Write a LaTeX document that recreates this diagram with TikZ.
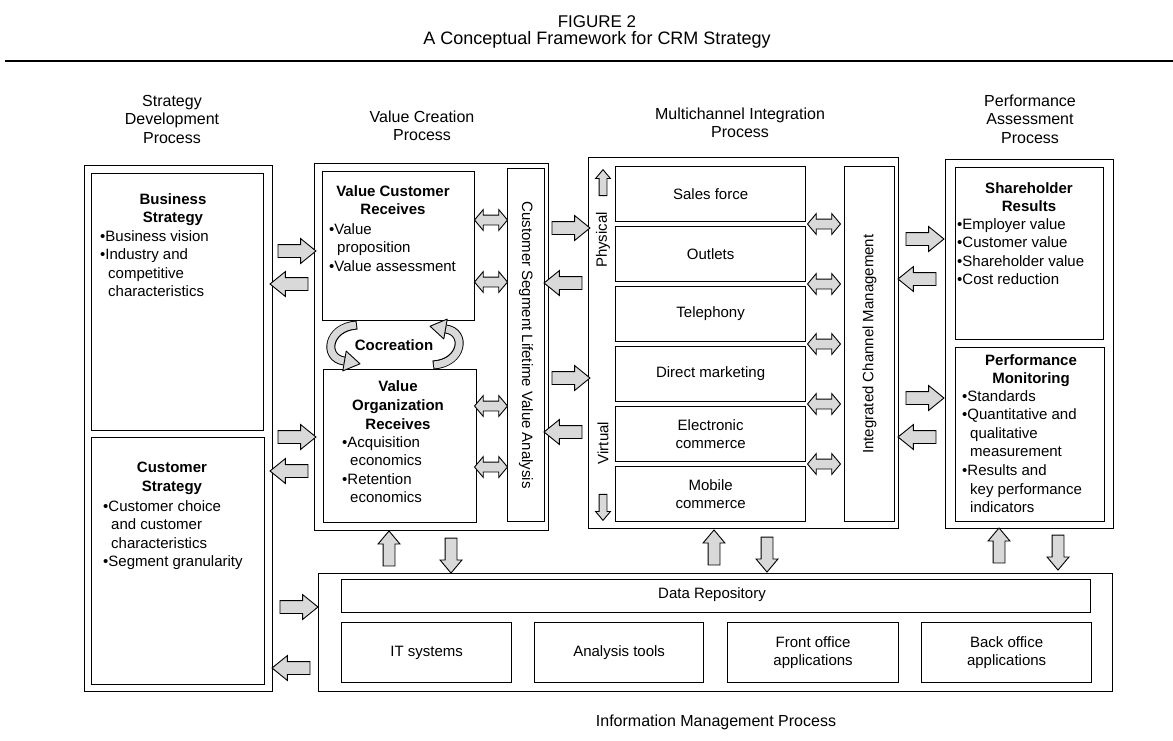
\documentclass[tikz,border=0pt]{standalone}
\usepackage{fontspec}
\setmainfont{Liberation Sans}
\usetikzlibrary{shapes.arrows}

\tikzset{
  outerbox/.style={draw, line width=1.4pt, inner sep=0pt, anchor=north west},
  innerbox/.style={draw, line width=1.2pt, inner sep=0pt, anchor=north west},
  bodytext/.style={font=\fontsize{15}{18.6}\selectfont, inner sep=0pt, align=left, anchor=north west},
  boxtitle/.style={font=\bfseries\fontsize{15}{18.4}\selectfont, inner sep=0pt, align=center, anchor=north},
  header/.style={font=\fontsize{16}{18.5}\selectfont, inner sep=0pt, align=center},
  chantext/.style={font=\fontsize{15}{18.6}\selectfont, inner sep=0pt, align=center},
  arrowfill/.style={draw, line width=0.9pt, fill=black!15, inner xsep=0pt},
  blockarrow/.style={single arrow, arrowfill, inner ysep=6pt, minimum height=38pt,
    single arrow head extend=6pt, single arrow tip angle=78},
  vblock/.style={single arrow, arrowfill, inner ysep=5.5pt, minimum height=35pt,
    single arrow head extend=5pt, single arrow tip angle=80},
  tinyarrow/.style={single arrow, arrowfill, inner ysep=3.5pt, minimum height=26pt,
    single arrow head extend=3.5pt, single arrow tip angle=80},
  twoway/.style={double arrow, arrowfill, inner ysep=4.5pt, minimum height=33pt,
    double arrow head extend=5.5pt, double arrow tip angle=100},
}
\newcommand{\ind}{\hspace*{8pt}}

\begin{document}
\begin{tikzpicture}[x=1pt, y=-1pt]
\useasboundingbox (0,0) rectangle (1173,740);

% ---- title and rule
\node[font=\fontsize{17}{20}\selectfont, inner sep=0pt] (fig) at (597,22) {FIGURE 2};
\node[font=\fontsize{18}{20}\selectfont, inner sep=0pt] (subtitle) at (597,40) {A Conceptual Framework for CRM Strategy};
\coordinate (ruleL) at (5,61);
\coordinate (ruleR) at (1173,61);
\draw[line width=1.8pt] (ruleL) -- (ruleR);

% ---- column headings
\node[header] (hStrat) at (172,119) {Strategy\\Development\\Process};
\node[header] (hVal) at (422,126) {Value Creation\\Process};
\node[header] (hMulti) at (740,123) {Multichannel Integration\\Process};
\node[header] (hPerf) at (1030,119) {Performance\\Assessment\\Process};
\node[header] (hInfo) at (716,722) {Information Management Process};

% ---- strategy development
\node[outerbox, minimum width=188pt, minimum height=526pt] (strat) at (84,165) {};
\node[innerbox, minimum width=172pt, minimum height=257pt] (bus) at (91,173) {};
\node[innerbox, minimum width=173pt, minimum height=247pt] (cust) at (91,437) {};
\node[boxtitle] (busT) at (173,193) {Business\\Strategy};
\node[bodytext] (busL) at (100,230) {•Business vision\\•Industry and\\\ind competitive\\\ind characteristics};
\node[boxtitle] (custT) at (172,462) {Customer\\Strategy};
\node[bodytext] (custL) at (103,500) {•Customer choice\\\ind and customer\\\ind characteristics\\•Segment granularity};

% ---- value creation
\node[outerbox, minimum width=234pt, minimum height=367pt] (vc) at (314,163) {};
\node[innerbox, minimum width=152pt, minimum height=149pt] (vcr) at (322,171) {};
\node[innerbox, minimum width=153pt, minimum height=153pt] (vor) at (323,369) {};
\node[innerbox, minimum width=37pt, minimum height=353pt] (clv) at (507,168) {};
\node[boxtitle] (vcrT) at (393,185) {Value Customer\\Receives};
\node[bodytext] (vcrL) at (329,223) {•Value\\\ind proposition\\•Value assessment};
\node[boxtitle, font=\bfseries\fontsize{15}{19}\selectfont] (vorT) at (398,380) {Value\\Organization\\Receives};
\node[bodytext] (vorL) at (342,436) {•Acquisition\\\ind economics\\•Retention\\\ind economics};
\node[chantext, rotate=-90] (clvT) at (clv.center) {Customer Segment Lifetime Value Analysis};
\node[font=\bfseries\fontsize{15}{18}\selectfont, inner sep=0pt] (cocre) at (394,345) {Cocreation};

% cocreation loop arrows
\draw[line width=9pt] (357,325) .. controls (327,327) and (323,358) .. (344,361);
\draw[line width=7pt, black!15, shorten <=1pt] (357,325) .. controls (327,327) and (323,358) .. (344,361);
\filldraw[fill=black!15, draw=black, line width=0.9pt, line join=round]
  (346.2,351.1) -- (360.0,363.8) -- (342.8,370.9) -- cycle;
\draw[line width=9pt] (433,365) .. controls (463,363) and (467,332) .. (446,329);
\draw[line width=7pt, black!15, shorten <=1pt] (433,365) .. controls (463,363) and (467,332) .. (446,329);
\filldraw[fill=black!15, draw=black, line width=0.9pt, line join=round]
  (443.8,338.9) -- (430.0,326.2) -- (447.2,319.1) -- cycle;

% ---- multichannel integration
\node[outerbox, minimum width=310pt, minimum height=371pt] (mc) at (588,157) {};
\node[innerbox, minimum width=190pt, minimum height=55pt] (sales) at (615,166) {};
\node[innerbox, minimum width=190pt, minimum height=55pt] (outlets) at (615,226) {};
\node[innerbox, minimum width=190pt, minimum height=55pt] (tel) at (615,286) {};
\node[innerbox, minimum width=190pt, minimum height=55pt] (dm) at (615,346) {};
\node[innerbox, minimum width=190pt, minimum height=55pt] (ec) at (615,406) {};
\node[innerbox, minimum width=190pt, minimum height=55pt] (mob) at (615,466) {};
\node[innerbox, minimum width=50pt, minimum height=355pt] (icm) at (844,166) {};
\node[chantext] (salesT) at (sales.center) {Sales force};
\node[chantext] (outletsT) at (outlets.center) {Outlets};
\node[chantext] (telT) at (tel.center) {Telephony};
\node[chantext] (dmT) at (dm.center) {Direct marketing};
\node[chantext] (ecT) at (ec.center) {Electronic\\commerce};
\node[chantext] (mobT) at (mob.center) {Mobile\\commerce};
\node[chantext, rotate=90] (icmT) at (icm.center) {Integrated Channel Management};
\node[chantext, rotate=90] (phys) at (603,240) {Physical};
\node[chantext, rotate=90] (virt) at (603,443) {Virtual};
\node[tinyarrow, rotate=90] (physA) at (603,185) {};
\node[tinyarrow, rotate=-90] (virtA) at (603,505) {};

% ---- performance assessment
\node[outerbox, minimum width=168pt, minimum height=369pt] (perf) at (945,159) {};
\node[innerbox, minimum width=148pt, minimum height=172pt] (sr) at (955,167) {};
\node[innerbox, minimum width=149pt, minimum height=174pt] (pm) at (955,347) {};
\node[boxtitle] (srT) at (1029,182) {Shareholder\\Results};
\node[bodytext] (srL) at (957,218) {•Employer value\\•Customer value\\•Shareholder value\\•Cost reduction};
\node[boxtitle] (pmT) at (1031,354) {Performance\\Monitoring};
\node[bodytext] (pmL) at (962,390) {•Standards\\•Quantitative and\\\ind qualitative\\\ind measurement\\•Results and\\\ind key performance\\\ind indicators};

% ---- information management
\node[outerbox, minimum width=794pt, minimum height=118pt] (info) at (318,573) {};
\node[innerbox, minimum width=749pt, minimum height=33pt] (repo) at (341,579) {};
\node[innerbox, minimum width=170pt, minimum height=60pt] (its) at (341,622) {};
\node[innerbox, minimum width=169pt, minimum height=60pt] (tools) at (534,622) {};
\node[innerbox, minimum width=171pt, minimum height=60pt] (front) at (727,622) {};
\node[innerbox, minimum width=170pt, minimum height=60pt] (back) at (921,622) {};
\node[chantext] (repoT) at (712,595) {Data Repository};
\node[chantext] (itsT) at (its.center) {IT systems};
\node[chantext] (toolsT) at (tools.center) {Analysis tools};
\node[chantext] (frontT) at (front.center) {Front office\\applications};
\node[chantext] (backT) at (back.center) {Back office\\applications};

% ---- flows between the processes
\node[blockarrow] (s2v1) at (293,251) {};
\node[blockarrow, rotate=180] (v2s1) at (293,284) {};
\node[blockarrow] (s2v2) at (293,437) {};
\node[blockarrow, rotate=180] (v2s2) at (293,471) {};
\node[blockarrow] (s2i) at (295,607) {};
\node[blockarrow, rotate=180] (i2s) at (295,668) {};

\node[blockarrow] (v2m1) at (567,228) {};
\node[blockarrow, rotate=180] (m2v1) at (567,283) {};
\node[blockarrow] (v2m2) at (567,378) {};
\node[blockarrow, rotate=180] (m2v2) at (567,432) {};

\node[blockarrow] (m2p1) at (921,239) {};
\node[blockarrow, rotate=180] (p2m1) at (921,279) {};
\node[blockarrow] (m2p2) at (921,398) {};
\node[blockarrow, rotate=180] (p2m2) at (921,437) {};

\node[vblock, rotate=90] (i2v) at (389,552) {};
\node[vblock, rotate=-90] (v2i) at (451,552) {};
\node[vblock, rotate=90] (i2m) at (714,551) {};
\node[vblock, rotate=-90] (m2i) at (767,551) {};
\node[vblock, rotate=90] (i2p) at (999,549) {};
\node[vblock, rotate=-90] (p2i) at (1058,549) {};

% two-way links inside value creation and multichannel integration
\node[twoway] (vcrA) at (491,220) {};
\node[twoway] (vcrB) at (491,282) {};
\node[twoway] (vorA) at (491,406) {};
\node[twoway] (vorB) at (491,467) {};
\node[twoway] (ch1) at (824,224) {};
\node[twoway] (ch2) at (824,284) {};
\node[twoway] (ch3) at (824,344) {};
\node[twoway] (ch4) at (824,404) {};
\node[twoway] (ch5) at (824,464) {};
\end{tikzpicture}
\end{document}
